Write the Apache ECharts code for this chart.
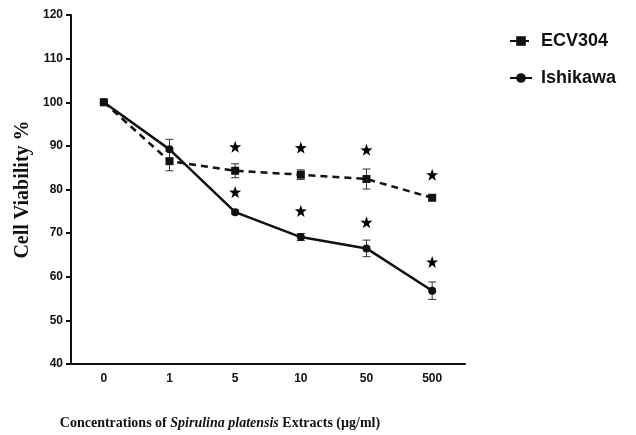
<!DOCTYPE html>
<html>
<head>
<meta charset="utf-8">
<script src="https://cdn.jsdelivr.net/npm/echarts@6/dist/echarts.min.js"></script>
<style>
  html, body { margin: 0; padding: 0; background: #fff; }
  #chart { width: 636px; height: 435px; }
</style>
</head>
<body>
<div id="chart"></div>
<script>
var doses = ['0', '1', '5', '10', '50', '500'];
var yTicks = [40, 120, 10]; // min, max, step

var ecv = [100, 86.5, 84.3, 83.4, 82.4, 78.1];
var ecvErr = [0, 2.2, 1.6, 1.1, 2.3, 0.5];
var ishi = [100, 89.2, 74.8, 69.1, 66.5, 56.8];
var ishiErr = [0, 2.3, 0.5, 0.8, 1.9, 2.0];

// asterisk positions (significance marks)
var ecvStars = [null, null, 89.8, 89.6, 89.1, 83.4];
var ishiStars = [null, null, 79.4, 75.1, 72.5, 63.4];

var STAR = 'path://M0,-10 L2.35,-3.24 L9.51,-3.09 L3.8,1.24 L5.88,8.09 L0,4 L-5.88,8.09 L-3.8,1.24 L-9.51,-3.09 L-2.35,-3.24 Z';
var INK = '#111';

function errData(vals, errs) {
  var out = [];
  vals.forEach(function (v, i) {
    if (errs[i] > 0) out.push([i, v - errs[i], v + errs[i]]);
  });
  return out;
}

function starData(arr) {
  var out = [];
  arr.forEach(function (v, i) {
    if (v != null) out.push([i, v]);
  });
  return out;
}

function renderErr(params, api) {
  var lo = api.coord([api.value(0), api.value(1)]);
  var hi = api.coord([api.value(0), api.value(2)]);
  var w = 4;
  var st = { stroke: '#333', lineWidth: 1 };
  return {
    type: 'group',
    children: [
      { type: 'line', shape: { x1: lo[0], y1: lo[1], x2: hi[0], y2: hi[1] }, style: st },
      { type: 'line', shape: { x1: lo[0] - w, y1: lo[1], x2: lo[0] + w, y2: lo[1] }, style: st },
      { type: 'line', shape: { x1: hi[0] - w, y1: hi[1], x2: hi[0] + w, y2: hi[1] }, style: st }
    ]
  };
}

var myChart = echarts.init(document.getElementById('chart'));
var option = {
  animation: false,
  grid: { left: 71, right: 171, top: 15, bottom: 65 },
  legend: {
    orient: 'vertical',
    left: 504,
    top: 27,
    itemGap: 19,
    itemWidth: 22,
    itemHeight: 12,
    textStyle: {
      color: INK,
      fontFamily: 'Liberation Sans',
      fontWeight: 'bold',
      fontSize: 18,
      padding: [0, 0, 0, 4]
    },
    data: ['ECV304', 'Ishikawa']
  },
  xAxis: {
    type: 'category',
    data: doses,
    boundaryGap: true,
    axisLine: { lineStyle: { color: INK, width: 2 } },
    axisTick: { alignWithLabel: true, length: 5, lineStyle: { color: INK, width: 2 } },
    axisLabel: {
      color: INK, fontFamily: 'Liberation Sans', fontWeight: 'bold', fontSize: 12, margin: 9
    },
    name: '{b|Concentrations of }{i|Spirulina platensis}{b| Extracts (\u00b5g/ml)}',
    nameLocation: 'middle',
    nameGap: 52,
    nameTextStyle: {
      padding: [0, 96, 0, 0],
      rich: {
        b: { fontFamily: 'Liberation Serif', fontWeight: 'bold', fontSize: 14, color: INK },
        i: { fontFamily: 'Liberation Serif', fontWeight: 'bold', fontStyle: 'italic', fontSize: 14, color: INK }
      }
    }
  },
  yAxis: {
    type: 'value',
    min: yTicks[0],
    max: yTicks[1],
    interval: yTicks[2],
    splitLine: { show: false },
    axisLine: { show: true, lineStyle: { color: INK, width: 2 } },
    axisTick: { show: true, length: 5, lineStyle: { color: INK, width: 2 } },
    axisLabel: {
      color: INK, fontFamily: 'Liberation Sans', fontWeight: 'bold', fontSize: 12, margin: 8
    },
    name: 'Cell Viability %',
    nameLocation: 'middle',
    nameGap: 38,
    nameMoveOverlap: false,
    nameTextStyle: {
      fontFamily: 'Liberation Serif', fontWeight: 'bold', fontSize: 20, color: INK
    }
  },
  series: [
    {
      name: 'ECV304',
      type: 'line',
      data: ecv,
      symbol: 'rect',
      symbolSize: 8,
      itemStyle: { color: INK },
      lineStyle: { color: INK, width: 2.5, type: [7, 5] },
      z: 3
    },
    {
      name: 'Ishikawa',
      type: 'line',
      data: ishi,
      symbol: 'circle',
      symbolSize: 8,
      itemStyle: { color: INK },
      lineStyle: { color: INK, width: 2.5 },
      z: 4
    },
    {
      type: 'custom',
      renderItem: renderErr,
      data: errData(ecv, ecvErr),
      encode: { x: 0, y: [1, 2] },
      z: 2
    },
    {
      type: 'custom',
      renderItem: renderErr,
      data: errData(ishi, ishiErr),
      encode: { x: 0, y: [1, 2] },
      z: 2
    },
    {
      type: 'scatter',
      data: starData(ecvStars).concat(starData(ishiStars)),
      symbol: STAR,
      symbolSize: 12,
      itemStyle: { color: '#000', opacity: 1 },
      z: 5
    }
  ]
};
myChart.setOption(option);
window.addEventListener('resize', function () {
  myChart.resize();
});
</script>
</body>
</html>
